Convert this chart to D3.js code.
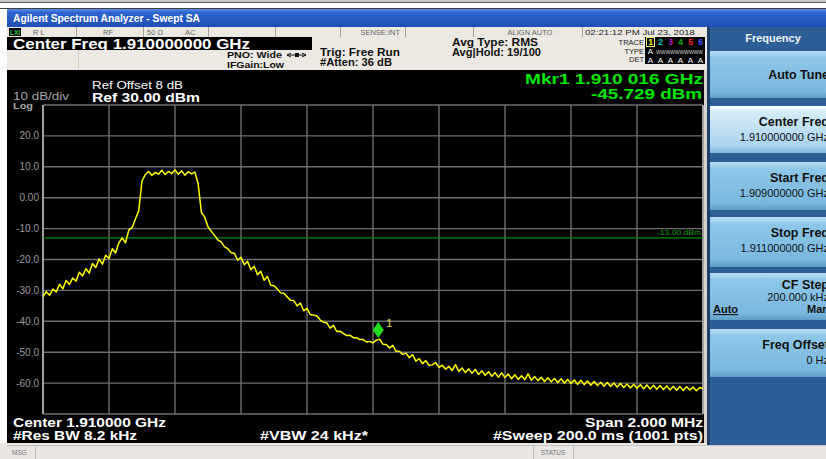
<!DOCTYPE html>
<html><head><meta charset="utf-8">
<script src="https://cdn.jsdelivr.net/npm/d3@7"></script>
<style>html,body{margin:0;padding:0;background:#fff;overflow:hidden}svg{display:block}text{font-family:"Liberation Sans",Arial,sans-serif}</style>
</head><body><svg id="c" width="826" height="459"></svg>
<script>
// ---------- data ----------
const startFreqGHz = 1.909;
const stopFreqGHz = 1.911;
const refLevelDbm = 30;
const bottomLevelDbm = -70;
const yTickValues = [20, 10, 0, -10, -20, -30, -40, -50, -60];
const yTickLabels = ["20.0", "10.0", "0.00", "-10.0", "-20.0", "-30.0", "-40.0", "-50.0", "-60.0"];
const yGridValues = [30, 20, 10, 0, -10, -20, -30, -40, -50, -60, -70];
const xGridFreqs = [1.9090, 1.9092, 1.9094, 1.9096, 1.9098, 1.9100, 1.9102, 1.9104, 1.9106, 1.9108, 1.9110];
const limitLineDbm = -13;
const limitLabel = "-13.00 dBm";
const markerFreqGHz = 1.910016;
const markerDbm = -45.729;
const traceDbm = [
 -32.0,-30.4,-31.6,-29.6,-30.5,-28.0,-29.5,-26.8,-28.1,-26.0,
 -27.0,-24.1,-25.3,-23.0,-24.4,-21.3,-22.6,-19.8,-21.5,-18.6,
 -19.7,-16.5,-17.9,-14.6,-13.0,-14.6,-10.5,-9.7,-6.9,-4.3,
 5.4,7.5,8.5,7.2,8.2,7.6,8.9,7.5,8.5,7.8,
 9.0,7.6,8.7,7.3,8.4,7.7,8.3,4.6,-4.8,-6.3,
 -9.4,-10.9,-12.2,-13.7,-14.3,-15.9,-16.5,-17.8,-18.0,-20.2,
 -19.3,-21.7,-20.6,-23.3,-22.2,-24.9,-23.8,-26.7,-25.5,-28.3,
 -28.5,-29.5,-30.8,-30.9,-32.1,-33.2,-33.3,-35.0,-34.1,-36.6,
 -35.8,-37.8,-38.0,-38.3,-39.6,-40.3,-40.5,-42.2,-41.3,-43.3,
 -43.2,-43.9,-44.6,-44.5,-45.3,-45.3,-45.9,-45.9,-46.7,-46.5,
 -47.0,-46.1,-45.8,-47.4,-47.5,-48.6,-47.8,-49.7,-49.7,-50.7,
 -50.3,-51.8,-50.8,-52.9,-52.1,-53.7,-52.7,-54.3,-54.1,-53.4,
 -54.9,-54.2,-55.5,-54.6,-55.9,-54.0,-56.2,-55.1,-56.6,-55.4,
 -56.8,-55.6,-57.2,-56.0,-57.5,-56.3,-57.8,-56.6,-58.1,-56.7,
 -58.2,-57.1,-58.6,-57.3,-58.8,-57.6,-58.9,-57.0,-59.1,-57.9,
 -59.2,-58.1,-59.5,-58.3,-59.6,-58.5,-59.8,-58.6,-60.0,-58.8,
 -60.1,-59.0,-60.4,-59.1,-60.5,-59.3,-60.7,-59.5,-60.8,-59.7,
 -61.0,-59.8,-61.1,-60.0,-61.3,-60.1,-61.4,-60.3,-61.6,-60.4,
 -61.7,-60.5,-61.8,-60.6,-61.9,-60.7,-62.0,-60.8,-62.1,-60.9,
 -62.2,-61.0,-62.3,-61.1,-62.4,-61.2,-62.2,-61.3,-62.5,-61.4,
 -61.8];
const softkeyTitles = ["Auto Tune", "Center Freq", "Start Freq", "Stop Freq", "CF Step", "Freq Offset"];
const softkeyValues = ["", "1.910000000 GHz", "1.909000000 GHz", "1.911000000 GHz", "200.000 kHz", "0 Hz"];
const traceNumbers = ["1", "2", "3", "4", "5", "6"];
const traceNumberColors = ["#ffff00", "#00c8c8", "#d000d0", "#00b000", "#ff2020", "#5050ff"];

// ---------- drawing ----------
const svg = d3.select("#c");
function txt(x, y, s, o = {}) {
  const t = svg.append("text").attr("x", x).attr("y", y).text(s)
    .attr("font-size", o.size || 10).attr("fill", o.fill || "#000")
    .attr("font-weight", o.bold ? "bold" : "normal")
    .attr("text-anchor", o.anchor || "start");
  if (o.len) t.attr("textLength", o.len).attr("lengthAdjust", "spacingAndGlyphs");
  if (o.underline) t.attr("text-decoration", "underline");
  return t;
}
const defs = svg.append("defs");
function grad(id, stops) {
  const g = defs.append("linearGradient").attr("id", id).attr("x1", 0).attr("x2", 0).attr("y1", 0).attr("y2", 1);
  stops.forEach(s => g.append("stop").attr("offset", s[0]).attr("stop-color", s[1]));
}
grad("title", [[0, "#5a8ee8"], [0.2, "#2d64d0"], [1, "#1f4fb4"]]);
grad("key", [[0, "#b9def3"], [0.15, "#8ec7e8"], [0.85, "#7ab8de"], [1, "#5f9fc8"]]);
grad("keyOn", [[0, "#ffffff"], [0.12, "#d6ecf8"], [0.85, "#a9d3ee"], [1, "#7fb7dc"]]);

// page background & top frame
svg.append("rect").attr("width", 826).attr("height", 459).attr("fill", "#ffffff");
svg.append("rect").attr("x", 0).attr("y", 0).attr("width", 826).attr("height", 2).attr("fill", "#c8c8c8");
svg.append("rect").attr("x", 0).attr("y", 2).attr("width", 826).attr("height", 1).attr("fill", "#606060");
svg.append("rect").attr("x", 0).attr("y", 8).attr("width", 826).attr("height", 1).attr("fill", "#404040");

// title bar
svg.append("rect").attr("x", 7).attr("y", 9).attr("width", 819).attr("height", 18).attr("fill", "url(#title)");
txt(13, 22, "Agilent Spectrum Analyzer - Swept SA", {size: 10, bold: true, fill: "#fff", len: 187});

// status row
svg.append("rect").attr("x", 7).attr("y", 27).attr("width", 700).attr("height", 10).attr("fill", "#ebe8e2");
[76, 143, 208, 275, 340, 405, 473, 582].forEach(x =>
  svg.append("rect").attr("x", x).attr("y", 27).attr("width", 1).attr("height", 10).attr("fill", "#a8a49c"));
svg.append("rect").attr("x", 9).attr("y", 28).attr("width", 12).attr("height", 8).attr("fill", "#000");
txt(10, 34.5, "LXI", {size: 7, bold: true, fill: "#3cd23c", len: 10});
txt(33, 34.5, "R L", {size: 7.5, fill: "#666"});
txt(103, 34.5, "RF", {size: 7.5, fill: "#666"});
txt(147, 34.5, "50 Ω", {size: 7.5, fill: "#666"});
txt(185, 34.5, "AC", {size: 7.5, fill: "#666"});
txt(400, 34.5, "SENSE:INT", {size: 7.5, fill: "#666", anchor: "end"});
txt(530, 34.5, "ALIGN AUTO", {size: 7.5, fill: "#666", anchor: "middle"});
txt(585, 34.5, "02:21:12 PM Jul 23, 2018", {size: 8, fill: "#222", len: 110});

// info band
svg.append("rect").attr("x", 7).attr("y", 37).attr("width", 700).attr("height", 33).attr("fill", "#ece9e3");
svg.append("rect").attr("x", 7).attr("y", 37).attr("width", 305).attr("height", 13).attr("fill", "#000");
txt(13, 49, "Center Freq 1.910000000 GHz", {size: 15, bold: true, fill: "#fff", len: 237});
svg.append("rect").attr("x", 78).attr("y", 50).attr("width", 1).attr("height", 20).attr("fill", "#d4d0c8");
txt(227, 57.5, "PNO: Wide", {size: 9, bold: true, fill: "#111", len: 55});
svg.append("path").attr("d", "M287,55 H306 M302,53 L306,55 L302,57 M291,53 L287,55 L291,57").attr("stroke", "#111").attr("fill", "none").attr("stroke-width", 1);
svg.append("rect").attr("x", 295).attr("y", 53).attr("width", 4).attr("height", 4).attr("fill", "#111");
txt(227, 67.5, "IFGain:Low", {size: 9, bold: true, fill: "#111", len: 57});
txt(320, 56, "Trig: Free Run", {size: 10, bold: true, fill: "#111", len: 80});
txt(320, 66, "#Atten: 36 dB", {size: 10, bold: true, fill: "#111", len: 72});
txt(452, 46, "Avg Type: RMS", {size: 10, bold: true, fill: "#111", len: 86});
txt(452, 56, "Avg|Hold: 19/100", {size: 10, bold: true, fill: "#111", len: 89});
// trace block
txt(644, 44.5, "TRACE", {size: 7.5, fill: "#222", anchor: "end"});
txt(644, 53.5, "TYPE", {size: 7.5, fill: "#222", anchor: "end"});
txt(644, 62, "DET", {size: 7.5, fill: "#222", anchor: "end"});
svg.append("rect").attr("x", 645).attr("y", 37).attr("width", 60).attr("height", 27).attr("fill", "#000");
svg.append("rect").attr("x", 646.5).attr("y", 37.5).attr("width", 8).attr("height", 9).attr("fill", "none").attr("stroke", "#f0f070").attr("stroke-width", 1);
traceNumbers.forEach((n, i) => txt(650.5 + i * 10, 45, n, {size: 8.5, bold: true, fill: traceNumberColors[i], anchor: "middle"}));
txt(650.5, 54, "A", {size: 8, fill: "#fff", anchor: "middle"});
txt(656, 54, "WWWWWWWWWW", {size: 6, fill: "#ddd", len: 47});
traceNumbers.forEach((n, i) => txt(650.5 + i * 10, 62.5, "A", {size: 8, fill: "#fff", anchor: "middle"}));

// display area
svg.append("rect").attr("x", 7).attr("y", 70).attr("width", 700).attr("height", 373).attr("fill", "#000");
svg.append("rect").attr("x", 704).attr("y", 70).attr("width", 3).attr("height", 373).attr("fill", "#d8d4cc");

txt(92, 89, "Ref Offset 8 dB", {size: 10, fill: "#fff", len: 91});
txt(92, 101.5, "Ref 30.00 dBm", {size: 12.5, bold: true, fill: "#fff", len: 108});
txt(13, 100, "10 dB/div", {size: 10, fill: "#a8a8a8", len: 56});
txt(13, 109, "Log", {size: 9, bold: true, fill: "#a8a8a8", len: 20});
txt(703, 84, "Mkr1 1.910 016 GHz", {size: 15, bold: true, fill: "#00e600", anchor: "end", len: 178});
txt(702, 98.5, "-45.729 dBm", {size: 15, bold: true, fill: "#00e600", anchor: "end", len: 111});

// scales
const plotL = 43, plotR = 703, plotT = 105, plotB = 414;
const x = d3.scaleLinear().domain([startFreqGHz, stopFreqGHz]).range([plotL, plotR]);
const y = d3.scaleLinear().domain([bottomLevelDbm, refLevelDbm]).range([plotB, plotT]);

// grid
const grid = svg.append("g");
grid.selectAll("line.h").data(yGridValues).join("line")
  .attr("x1", plotL).attr("x2", plotR).attr("y1", d => y(d)).attr("y2", d => y(d))
  .attr("stroke", "#6e6e6e").attr("stroke-width", 1.4);
grid.selectAll("line.v").data(xGridFreqs).join("line")
  .attr("x1", d => x(d)).attr("x2", d => x(d)).attr("y1", plotT).attr("y2", plotB)
  .attr("stroke", (d, i) => (i === 0 || i === xGridFreqs.length - 1) ? "#a0a0a0" : "#6e6e6e")
  .attr("stroke-width", (d, i) => (i === 0 || i === xGridFreqs.length - 1) ? 2 : 1.4);

// y labels
yTickValues.forEach((v, i) => txt(39, y(v) + 3.5, yTickLabels[i], {size: 10, fill: "#9a9a9a", anchor: "end"}));

// limit line
svg.append("line").attr("x1", plotL).attr("x2", plotR).attr("y1", y(limitLineDbm)).attr("y2", y(limitLineDbm))
  .attr("stroke", "#0a8a0a").attr("stroke-width", 1.3);
txt(701, y(limitLineDbm) - 3, limitLabel, {size: 7, fill: "#0aa00a", anchor: "end", len: 44});

// trace
const n = traceDbm.length;
const freqs = d3.range(n).map(i => startFreqGHz + i * (stopFreqGHz - startFreqGHz) / (n - 1));
const line = d3.line().x((d, i) => x(freqs[i])).y(d => y(d));
svg.append("path").datum(traceDbm).attr("d", line).attr("fill", "none")
  .attr("stroke", "#ffff00").attr("stroke-width", 1.5).attr("stroke-linejoin", "round");

// marker
const mx = x(markerFreqGHz), my = y(markerDbm);
svg.append("path").attr("d", `M${mx},${my - 1} L${mx + 5.5},${my - 9} L${mx},${my - 17} L${mx - 5.5},${my - 9} Z`)
  .attr("fill", "#22dd22");
txt(mx + 8, my - 12, "1", {size: 11, fill: "#e0e040"});

// bottom annotations
txt(13, 427, "Center 1.910000 GHz", {size: 12, bold: true, fill: "#fff", len: 153});
txt(13, 440, "#Res BW 8.2 kHz", {size: 12, bold: true, fill: "#fff", len: 124});
txt(260, 440, "#VBW 24 kHz*", {size: 12, bold: true, fill: "#fff", len: 108});
txt(703, 427, "Span 2.000 MHz", {size: 12, bold: true, fill: "#fff", anchor: "end", len: 118});
txt(703, 440, "#Sweep  200.0 ms (1001 pts)", {size: 12, bold: true, fill: "#fff", anchor: "end", len: 210});

// message bar
svg.append("rect").attr("x", 0).attr("y", 443).attr("width", 826).attr("height", 16).attr("fill", "#e8e5e3");
svg.append("rect").attr("x", 7).attr("y", 445).attr("width", 819).attr("height", 1).attr("fill", "#c8c4c0");
txt(12, 455, "MSG", {size: 6.5, fill: "#777"});
svg.append("rect").attr("x", 35).attr("y", 446).attr("width", 1).attr("height", 13).attr("fill", "#bbb");
svg.append("rect").attr("x", 533).attr("y", 446).attr("width", 1).attr("height", 13).attr("fill", "#bbb");
svg.append("rect").attr("x", 573).attr("y", 446).attr("width", 1).attr("height", 13).attr("fill", "#bbb");
txt(553, 455, "STATUS", {size: 6.5, fill: "#777", anchor: "middle"});

// right softkey panel
svg.append("rect").attr("x", 707).attr("y", 27).attr("width", 119).attr("height", 418).attr("fill", "#2e5e98");
svg.append("rect").attr("x", 707).attr("y", 27).attr("width", 3).attr("height", 418).attr("fill", "#1e3f6a");
txt(773, 42, "Frequency", {size: 11, bold: true, fill: "#eef4fa", anchor: "middle"});
const keyTops = [51, 106, 162, 217, 273, 329];
const keyBots = [98, 153, 210, 267, 320, 377];
softkeyTitles.forEach((t, i) => {
  svg.append("rect").attr("x", 710).attr("y", keyTops[i]).attr("width", 116).attr("height", keyBots[i] - keyTops[i])
    .attr("fill", i === 1 ? "url(#keyOn)" : "url(#key)");
  const two = softkeyValues[i] !== "";
  const ty = two ? keyTops[i] + (i === 4 ? 16 : 20) : (keyTops[i] + keyBots[i]) / 2 + 4.5;
  txt(829, ty, t, {size: 12.5, bold: true, fill: "#111", anchor: "end"});
  if (two) txt(829, ty + (i === 4 ? 12 : 15), softkeyValues[i], {size: 11, fill: "#111", anchor: "end"});
});
txt(713, 313, "Auto", {size: 11, bold: true, fill: "#111", underline: true});
txt(829, 313, "Man", {size: 11, bold: true, fill: "#111", anchor: "end"});
</script></body></html>
